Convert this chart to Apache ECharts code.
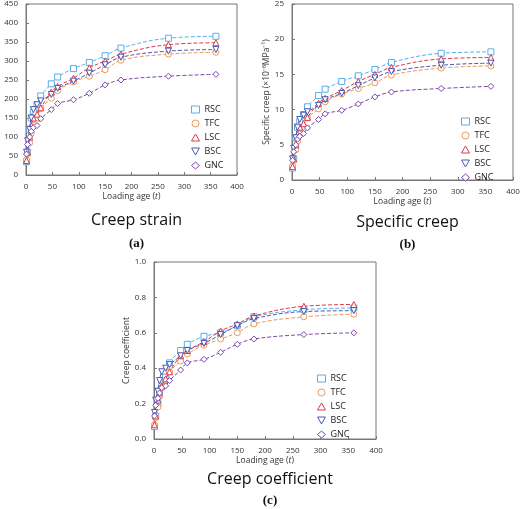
<!DOCTYPE html><html><head><meta charset="utf-8"><script src="https://cdn.jsdelivr.net/npm/echarts@6/dist/echarts.min.js"></script>
<style>body{margin:0}#c{width:520px;height:509px}</style></head><body><div id="c"></div><script>
const ages=[1,3,7,10,14,21,28,48,60,90,120,150,180,270,360];
const names=['RSC','TFC','LSC','BSC','GNC'];
const colors=['#5aaee8','#e89a5a','#e03848','#4a58b0','#7a48a8'];
const symbols=['rect','circle','triangle','path://M0,0L10,0L5,9Z','diamond'];
const strain=[
[35,60,120,150,165,185,208,240,258,280,296,314,334,360,365],
[40,55,85,110,130,150,175,202,222,245,260,277,302,318,323],
[38,60,100,130,150,160,177,218,233,255,282,300,318,343,348],
[60,90,120,150,172,185,195,212,228,247,268,290,310,326,330],
[55,80,100,115,125,130,148,172,188,198,215,237,250,260,265]];
const specific=[
[1.7,3,6,7.5,8.3,9.3,10.4,12,12.9,14,14.8,15.7,16.7,18,18.2],
[2,2.8,4.3,5.5,6.5,7.6,8.8,10.1,11.1,12.2,13,13.8,14.9,15.9,16.2],
[1.9,3,5,6.5,7.5,8,8.9,10.9,11.6,12.7,14,15,16,17.2,17.4],
[3,4.5,6,7.5,8.6,9.2,9.7,10.6,11.4,12.3,13.4,14.5,15.4,16.3,16.6],
[2.8,4,5,5.8,6.2,6.6,7.4,8.6,9.4,9.9,10.8,11.8,12.5,13,13.3]];
const coeff=[
[0.07,0.13,0.2,0.27,0.3,0.35,0.43,0.5,0.535,0.58,0.6,0.64,0.69,0.73,0.74],
[0.08,0.12,0.18,0.24,0.29,0.33,0.38,0.44,0.48,0.53,0.565,0.6,0.65,0.69,0.705],
[0.08,0.13,0.22,0.26,0.3,0.34,0.38,0.47,0.5,0.55,0.61,0.65,0.695,0.75,0.76],
[0.15,0.22,0.27,0.33,0.38,0.4,0.42,0.47,0.5,0.54,0.59,0.64,0.68,0.72,0.725],
[0.13,0.19,0.23,0.26,0.29,0.3,0.33,0.39,0.43,0.45,0.49,0.535,0.565,0.59,0.6]];
const panels=[
{data:strain,max:450,interval:50,fmt:v=>v,yname:'Creep strain (με)',title:'Creep strain',tag:'(a)',grid:{left:26,top:4,width:211,height:171},legend:{left:186,top:100},tt:32,tg:57},
{data:specific,max:25,interval:5,fmt:v=>v,yname:'Specific creep (×10⁻⁶MPa⁻¹)',title:'Specific creep',tag:'(b)',grid:{left:292,top:4,width:221,height:176},legend:{left:456,top:112},tt:29,tg:53},
{data:coeff,max:1,interval:0.2,fmt:v=>v.toFixed(1),yname:'Creep coefficient',title:'Creep coefficient',tag:'(c)',grid:{left:154,top:262,width:222,height:177},legend:{left:312,top:369},tt:27,tg:50}];
const ax={axisLine:{show:true,onZero:false,lineStyle:{color:'#777'}},axisTick:{inside:true,length:3,lineStyle:{color:'#777'}},splitLine:{show:false},axisLabel:{fontSize:8,color:'#333',fontFamily:'Open Sans'}};
const option={animation:false,grid:[],xAxis:[],yAxis:[],series:[],legend:[],title:[]};
panels.forEach((p,i)=>{
 option.grid.push(Object.assign({show:true,borderColor:'#777',borderWidth:1,containLabel:false,outerBoundsMode:'none'},p.grid));
 option.xAxis.push(Object.assign({},ax,{gridIndex:i,type:'value',min:0,max:400,interval:50,name:'Loading age ({i|t})',nameLocation:'middle',nameGap:15,nameTextStyle:{fontSize:8.5,color:'#333',fontFamily:'Open Sans',rich:{i:{fontStyle:'italic',fontSize:8.5}}}}));
 option.yAxis.push(Object.assign({},ax,{gridIndex:i,type:'value',min:0,max:p.max,interval:p.interval,axisLabel:Object.assign({},ax.axisLabel,{formatter:p.fmt}),name:p.yname,nameLocation:'middle',nameGap:i==2?20:(i==0?16:12),nameTextStyle:{fontSize:8.5,color:'#333',fontFamily:'Open Sans'}}));
 names.forEach((n,k)=>{
  option.series.push({name:n,type:'line',xAxisIndex:i,yAxisIndex:i,smooth:0.4,data:ages.map((a,j)=>[a,p.data[k][j]]),
   symbol:symbols[k],symbolSize:6,lineStyle:{type:'dashed',width:1,color:colors[k]},itemStyle:{color:'#fff',borderColor:colors[k],borderWidth:1},z:2+k});
 });
 option.legend.push(Object.assign({orient:'vertical',itemWidth:8,itemHeight:7,itemGap:5,textStyle:{fontSize:9,color:'#222',fontFamily:'Open Sans'},
   data:names.map((n,k)=>({name:n,icon:symbols[k],itemStyle:{color:'#fff',borderColor:colors[k],borderWidth:1}}))},p.legend));
 const cx=p.grid.left+p.grid.width/2;
 option.title.push({text:p.title,left:cx,top:p.grid.top+p.grid.height+p.tt,textAlign:'center',textStyle:{fontSize:16,fontWeight:'normal',color:'#111',fontFamily:'Open Sans'}});
 option.title.push({text:p.tag,left:cx,top:p.grid.top+p.grid.height+p.tg,textAlign:'center',textStyle:{fontSize:13,fontWeight:'bold',color:'#111',fontFamily:'Liberation Serif'}});
});
echarts.init(document.getElementById('c')).setOption(option);
</script></body></html>
